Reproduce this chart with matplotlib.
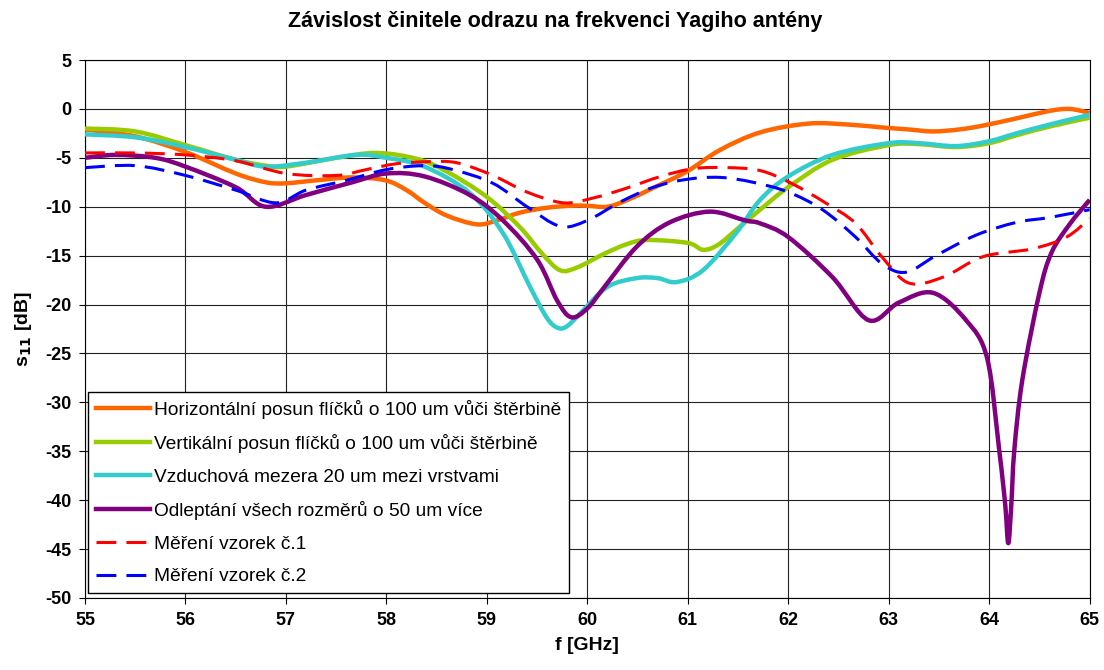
import matplotlib
matplotlib.use("Agg")
from matplotlib import pyplot as plt
from matplotlib.path import Path
from matplotlib.patches import PathPatch
from matplotlib.lines import Line2D

plt.rcParams['font.family'] = ['Liberation Sans', 'DejaVu Sans']
plt.rcParams['axes.unicode_minus'] = False

# Horizontalni posun
f_h = [55.0, 55.5, 56.0, 56.5, 56.8, 57.0, 57.3, 57.66, 57.99, 58.2, 58.38, 58.6, 58.9,
       59.1, 59.33, 59.6, 59.83, 60.0, 60.2, 60.4, 60.65, 60.99, 61.32, 61.72, 62.2,
       62.6, 62.94, 63.2, 63.44, 63.7, 63.94, 64.3, 64.6, 64.8, 65.0]
s_h = [-2.1, -2.8, -4.4, -6.6, -7.5, -7.6, -7.3, -7.0, -7.3, -8.3, -9.6, -10.9, -11.8,
       -11.4, -10.6, -10.1, -9.9, -9.9, -10.0, -9.3, -8.1, -6.4, -4.2, -2.4, -1.5,
       -1.6, -1.9, -2.1, -2.3, -2.1, -1.7, -0.9, -0.2, 0.0, -0.4]

# Vertikalni posun
f_v = [55.0, 55.5, 56.0, 56.5, 56.8, 57.0, 57.5, 57.9, 58.3, 58.6, 59.0, 59.33, 59.55,
       59.73, 59.9, 60.17, 60.4, 60.6, 61.0, 61.15, 61.3, 61.5, 61.72, 62.0, 62.44,
       63.0, 63.3, 63.67, 64.0, 64.27, 64.6, 65.0]
s_v = [-2.0, -2.3, -3.7, -5.2, -5.8, -5.9, -5.0, -4.5, -5.1, -6.4, -9.0, -12.1, -14.8,
       -16.5, -16.2, -14.8, -13.8, -13.4, -13.7, -14.4, -13.9, -12.2, -10.3, -8.0, -5.2,
       -3.7, -3.6, -3.9, -3.5, -2.7, -1.8, -0.9]

# Vzduchova mezera
f_c = [55.0, 55.5, 56.0, 56.5, 56.8, 57.2, 57.7, 58.0, 58.38, 58.83, 59.16, 59.43, 59.6,
       59.71, 59.8, 59.93, 60.2, 60.49, 60.7, 60.89, 61.15, 61.48, 61.72, 62.0, 62.44,
       63.0, 63.3, 63.67, 64.0, 64.27, 64.6, 65.0]
s_c = [-2.6, -2.9, -3.9, -5.2, -5.9, -5.5, -4.7, -5.0, -5.9, -8.6, -12.7, -18.2, -21.4,
       -22.4, -22.2, -20.9, -18.2, -17.3, -17.3, -17.7, -16.5, -12.7, -9.3, -6.9, -4.7,
       -3.5, -3.5, -3.8, -3.3, -2.5, -1.6, -0.6]

# Odleptani vsech rozmeru
f_p = [55.0, 55.3, 55.7, 56.0, 56.5, 56.8, 57.2, 57.66, 58.0, 58.38, 58.83, 59.16, 59.5,
       59.7, 59.84, 60.0, 60.17, 60.49, 60.82, 61.22, 61.57, 61.72, 62.0, 62.44, 62.8,
       63.1, 63.44, 63.77, 63.98, 64.1, 64.16, 64.19, 64.22, 64.25, 64.33, 64.5, 64.62,
       64.8, 65.0]
s_p = [-5.0, -4.7, -5.0, -5.9, -8.0, -10.0, -8.8, -7.5, -6.6, -6.9, -8.8, -11.4, -15.4,
       -19.6, -21.3, -20.4, -18.2, -14.1, -11.6, -10.5, -11.4, -11.7, -13.1, -17.2, -21.6,
       -19.8, -18.8, -21.6, -25.5, -34.9, -40.5, -44.4, -40.5, -34.9, -27.7, -18.8, -14.7,
       -11.8, -9.3]

# Mereni vzorek c.1
f_m1 = [55.0, 55.5, 56.0, 56.5, 57.0, 57.5, 57.8, 58.1, 58.4, 58.7, 59.06, 59.4, 59.76,
        60.06, 60.39, 60.73, 61.06, 61.39, 61.72, 62.03, 62.37, 62.67, 62.93, 63.2,
        63.54, 63.94, 64.43, 64.77, 65.0]
s_m1 = [-4.5, -4.5, -4.7, -5.3, -6.6, -6.8, -6.2, -5.6, -5.4, -5.5, -6.8, -8.5, -9.6,
        -9.1, -8.1, -6.9, -6.1, -6.0, -6.3, -7.6, -9.6, -11.7, -15.1, -17.8,
        -17.2, -15.1, -14.3, -13.1, -11.2]

# Mereni vzorek c.2
f_m2 = [55.0, 55.5, 56.0, 56.5, 56.9, 57.2, 57.6, 58.0, 58.38, 58.66, 59.06, 59.4, 59.73,
        60.0, 60.33, 60.66, 60.99, 61.32, 61.65, 62.0, 62.34, 62.67, 62.93, 63.17,
        63.47, 63.87, 64.27, 64.6, 65.0]
s_m2 = [-6.0, -5.8, -6.8, -8.3, -9.6, -8.3, -7.3, -6.2, -5.8, -6.2, -7.6, -10.0, -12.0,
        -11.4, -9.5, -8.0, -7.2, -7.0, -7.5, -8.5, -10.3, -13.1, -15.8, -16.7,
        -15.0, -12.9, -11.6, -11.1, -10.3]

labels = ["Horizontální posun flíčků o 100 um vůči štěrbině",
          "Vertikální posun flíčků o 100 um vůči štěrbině",
          "Vzduchová mezera 20 um mezi vrstvami",
          "Odleptání všech rozměrů o 50 um více",
          "Měření vzorek č.1",
          "Měření vzorek č.2"]


def smooth_path(x, y):
    # smoothed line through the points (cubic Bezier, Catmull-Rom tangents)
    n = len(x)
    verts = [(x[0], y[0])]
    codes = [Path.MOVETO]
    for i in range(n - 1):
        i0 = max(i - 1, 0)
        i3 = min(i + 2, n - 1)
        c1 = (x[i] + (x[i + 1] - x[i0]) / 6.0, y[i] + (y[i + 1] - y[i0]) / 6.0)
        c2 = (x[i + 1] - (x[i3] - x[i]) / 6.0, y[i + 1] - (y[i3] - y[i]) / 6.0)
        verts += [c1, c2, (x[i + 1], y[i + 1])]
        codes += [Path.CURVE4] * 3
    return Path(verts, codes)


fig = plt.figure(figsize=(11.04, 6.70), dpi=100)
ax = fig.add_axes([0.077, 0.1075, 0.910, 0.8029])

dash = (0, (6.5, 3.3))
series = [(f_h, s_h, "#FF6600", 3.2, "-"),
          (f_v, s_v, "#99CC00", 3.2, "-"),
          (f_c, s_c, "#33CCCC", 3.2, "-"),
          (f_p, s_p, "#800080", 3.2, "-"),
          (f_m1, s_m1, "#FF0000", 2.2, dash),
          (f_m2, s_m2, "#0000FF", 2.2, dash)]

handles = []
for (xs, ys, col, lw, ls), lab in zip(series, labels):
    patch = PathPatch(smooth_path(xs, ys), fill=False, edgecolor=col, lw=lw,
                      linestyle=ls, capstyle="butt", joinstyle="round", zorder=3)
    ax.add_patch(patch)
    handles.append(Line2D([], [], color=col, lw=lw, linestyle=ls, label=lab))

ax.set_xlim(55, 65)
ax.set_ylim(-50, 5)
ax.set_xticks(range(55, 66))
ax.set_yticks(range(-50, 6, 5))
ax.grid(True, color="#222222", lw=0.8)
ax.set_axisbelow(True)
for lbl in ax.get_xticklabels() + ax.get_yticklabels():
    lbl.set_fontweight("bold")
ax.tick_params(axis="both", labelsize=13, length=4, direction="out", pad=6)

# chart title is centred on the whole figure, not on the plot area
fig.text(555 / 1104, 1 - 21 / 670, "Závislost činitele odrazu na frekvenci Yagiho antény",
         fontsize=15.5, fontweight="bold", ha="center", va="center")
ax.set_xlabel("f [GHz]", fontsize=14, fontweight="bold", labelpad=6)
ax.set_ylabel("s$_{\\mathbf{11}}$ [dB]", fontsize=14, fontweight="bold", labelpad=8)

leg = ax.legend(handles=handles, loc="lower left", bbox_to_anchor=(0.003, 0.009),
                borderaxespad=0, fontsize=13.8, fancybox=False, framealpha=1,
                edgecolor="black", handlelength=2.85, handletextpad=0.18,
                labelspacing=0.8, borderpad=0.4)
leg.get_frame().set_linewidth(1.0)

fig.savefig("out.png", dpi=100)
